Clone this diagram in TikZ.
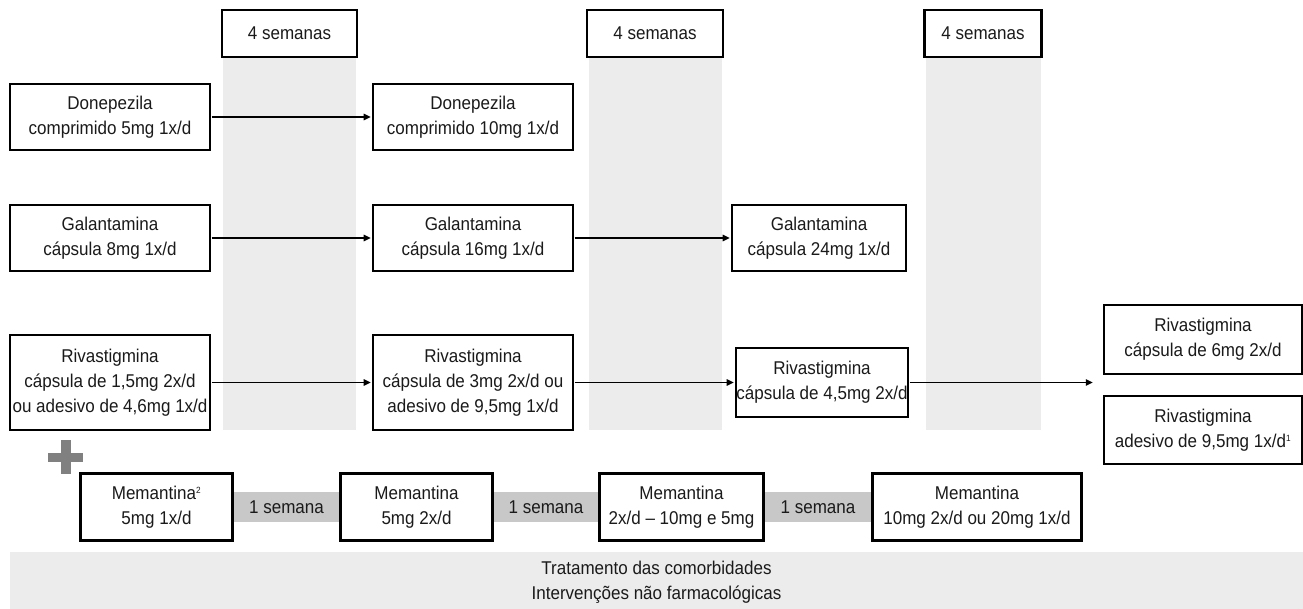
\documentclass[tikz,border=0pt]{standalone}
\usepackage{fontspec}
\setmainfont{Liberation Sans}[FakeStretch=0.92]
\usetikzlibrary{arrows.meta}
\definecolor{colgray}{HTML}{ECECEC}
\definecolor{bargray}{HTML}{C8C8C8}
\definecolor{plusgray}{HTML}{808080}
\definecolor{txt}{HTML}{1A1A1A}
\begin{document}
\begin{tikzpicture}[x=1pt,y=-1pt,
  every node/.style={font=\fontsize{18.5}{25}\selectfont, text=txt, inner sep=0pt, align=center},
  box/.style={draw=black, line width=2.2pt, fill=white},
  topbox/.style={box, minimum height=47pt},
  drugbox/.style={box, minimum width=200pt, minimum height=66pt},
  colband/.style={fill=colgray},
  arr/.style={line width=1.2pt, -{Triangle[length=7pt,width=6.5pt]}, shorten >=1.2pt, shorten <=0.5pt},
  weekbar/.style={fill=bargray}
]
\useasboundingbox (0,0) rectangle (1303,609);
% gray columns
\fill[colband] (223,57) rectangle (356,430);
\fill[colband] (589,57) rectangle (722,430);
\fill[colband] (926,57) rectangle (1041,430);
% bottom band
\fill[colband] (10,552) rectangle (1303,609);
\node (band) at (656.5,582) {Tratamento das comorbidades\\Intervenções não farmacológicas};
% top boxes
\node[topbox, minimum width=135pt] (t1) at (289.5,33.5) {4 semanas};
\node[topbox, minimum width=136pt] (t2) at (655,33.5) {4 semanas};
\node[topbox, minimum width=117pt] (t3) at (983,33.5) {4 semanas};
% donepezila
\node[drugbox] (d1) at (110,117) {Donepezila\\comprimido 5mg 1x/d};
\node[drugbox] (d2) at (473,117) {Donepezila\\comprimido 10mg 1x/d};
% galantamina
\node[drugbox] (g1) at (110,238) {Galantamina\\cápsula 8mg 1x/d};
\node[drugbox] (g2) at (473,238) {Galantamina\\cápsula 16mg 1x/d};
\node[drugbox, minimum width=174pt] (g3) at (819,238) {Galantamina\\cápsula 24mg 1x/d};
% rivastigmina
\node[drugbox, minimum height=95pt] (r1) at (110,382.5) {Rivastigmina\\cápsula de 1,5mg 2x/d\\ou adesivo de 4,6mg 1x/d};
\node[drugbox, minimum height=95pt] (r2) at (473,382.5) {Rivastigmina\\cápsula de 3mg 2x/d ou\\adesivo de 9,5mg 1x/d};
\node[drugbox, minimum width=172pt, minimum height=69pt] (r3) at (822,382.5) {Rivastigmina\\cápsula de 4,5mg 2x/d};
\node[drugbox, minimum width=198pt, minimum height=69pt] (r4) at (1203,339.5) {Rivastigmina\\cápsula de 6mg 2x/d};
\node[drugbox, minimum width=198pt, minimum height=68pt] (r5) at (1203,430) {Rivastigmina\\adesivo de 9,5mg 1x/d\textsuperscript{\fontsize{9}{9}\selectfont 1}};
\coordinate (rend) at (1094,382.5);
% arrows
\draw[arr] (d1) -- (d2);
\draw[arr] (g1) -- (g2);
\draw[arr] (g2) -- (g3);
\draw[arr] (r1) -- (r2);
\draw[arr] (r2) -- (r3);
\draw[arr] (r3) -- (rend);
% plus sign
\fill[plusgray] (61,440) rectangle (71,474);
\fill[plusgray] (48,453) rectangle (83,462);
% memantina
\node[drugbox, minimum width=151pt] (m1) at (156.5,507) {Memantina\textsuperscript{\fontsize{9}{9}\selectfont 2}\\5mg 1x/d};
\node[drugbox, minimum width=151pt] (m2) at (416.5,507) {Memantina\\5mg 2x/d};
\node[drugbox, minimum width=163pt] (m3) at (681.5,507) {Memantina\\2x/d -- 10mg e 5mg};
\node[drugbox, minimum width=208pt] (m4) at (977,507) {Memantina\\10mg 2x/d ou 20mg 1x/d};
% week bars
\fill[weekbar] ([yshift=-15pt]m1.east) rectangle ([yshift=15pt]m2.west);
\fill[weekbar] ([yshift=-15pt]m2.east) rectangle ([yshift=15pt]m3.west);
\fill[weekbar] ([yshift=-15pt]m3.east) rectangle ([yshift=15pt]m4.west);
\path (m1.east) -- (m2.west) node[midway] (w1) {1 semana};
\path (m2.east) -- (m3.west) node[midway] (w2) {1 semana};
\path (m3.east) -- (m4.west) node[midway] (w3) {1 semana};
% redraw box borders over bars
\draw[line width=2.2pt] (m1.north west) rectangle (m1.south east);
\draw[line width=2.2pt] (m2.north west) rectangle (m2.south east);
\draw[line width=2.2pt] (m3.north west) rectangle (m3.south east);
\draw[line width=2.2pt] (m4.north west) rectangle (m4.south east);
\end{tikzpicture}
\end{document}
